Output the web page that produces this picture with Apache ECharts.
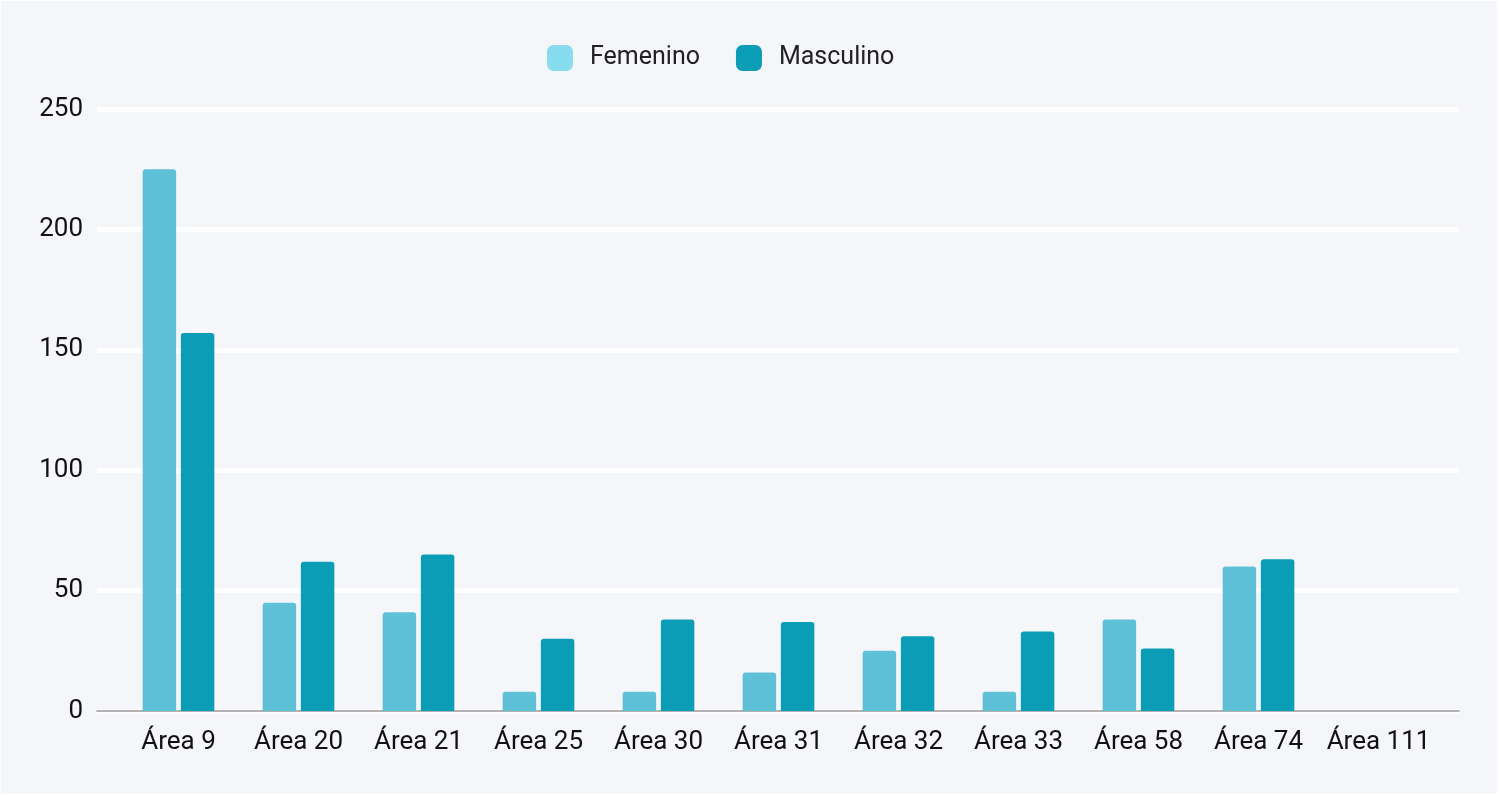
<!DOCTYPE html>
<html>
<head>
<meta charset="utf-8">
<script src="https://cdn.jsdelivr.net/npm/echarts@6/dist/echarts.min.js"></script>
<style>
html,body{margin:0;padding:0;background:#ffffff;}
#c{position:absolute;left:0;top:0;width:1499px;height:796px;}
#f{position:absolute;left:0;top:0;width:1496px;height:793px;border-left:1px solid #fff;border-top:1px solid #fff;border-right:2px solid #fff;border-bottom:2px solid #fff;pointer-events:none;}
</style>
</head>
<body>
<div id="c"></div>
<div id="f"></div>
<script>
const categories = ['Área 9','Área 20','Área 21','Área 25','Área 30','Área 31','Área 32','Área 33','Área 58','Área 74','Área 111'];
const femenino = [225, 45, 41, 8, 8, 16, 25, 8, 38, 60, 0];
const masculino = [157, 62, 65, 30, 38, 37, 31, 33, 26, 63, 0];
const yTicks = [0, 50, 100, 150, 200, 250];

const chart = echarts.init(document.getElementById('c'));
const font = 'Roboto, "Noto Sans", sans-serif';
chart.setOption({
  backgroundColor: '#f5f6fa',
  textStyle: {fontFamily: font},
  legend: {
    left: 542, top: 40,
    itemWidth: 26, itemHeight: 26, itemGap: 36,
    icon: 'roundRect',
    textStyle: {fontSize: 25, color: '#222', fontFamily: font, padding: [0,0,0,12]},
    data: [
      {name: 'Femenino', itemStyle: {color: '#87dcee'}},
      {name: 'Masculino', itemStyle: {color: '#0a9db5'}}
    ]
  },
  grid: [
    {left: 97, right: 40, top: 109, bottom: 85},
    {left: 118.5, right: 60.5, top: 109, bottom: 85}
  ],
  xAxis: [
    {gridIndex: 0, type: 'category', data: categories,
     axisLine: {show: true, lineStyle: {color: '#999', width: 1.5}},
     axisTick: {show: false}, axisLabel: {show: false}, splitLine: {show: false}},
    {gridIndex: 1, type: 'category', data: categories,
     axisLine: {show: false}, axisTick: {show: false},
     axisLabel: {fontSize: 26, color: '#111', margin: 18, fontFamily: font, interval: 0}}
  ],
  yAxis: [
    {gridIndex: 0, type: 'value', min: yTicks[0], max: yTicks[yTicks.length-1], interval: 50,
     axisLine: {show: false}, axisTick: {show: false},
     axisLabel: {fontSize: 26, color: '#111', margin: 14, fontFamily: font},
     splitLine: {show: true, lineStyle: {color: '#ffffff', width: 5}}},
    {gridIndex: 1, type: 'value', min: yTicks[0], max: yTicks[yTicks.length-1], interval: 50,
     show: false, splitLine: {show: false}}
  ],
  series: [
    {name: 'Femenino', type: 'bar', xAxisIndex: 1, yAxisIndex: 1, data: femenino,
     barWidth: 33.5, barGap: '14%',
     itemStyle: {color: '#5fc1d7', borderRadius: [3,3,0,0]}},
    {name: 'Masculino', type: 'bar', xAxisIndex: 1, yAxisIndex: 1, data: masculino,
     barWidth: 33.5, barGap: '14%',
     itemStyle: {color: '#0a9db5', borderRadius: [3,3,0,0]}}
  ]
});
</script>
</body>
</html>
